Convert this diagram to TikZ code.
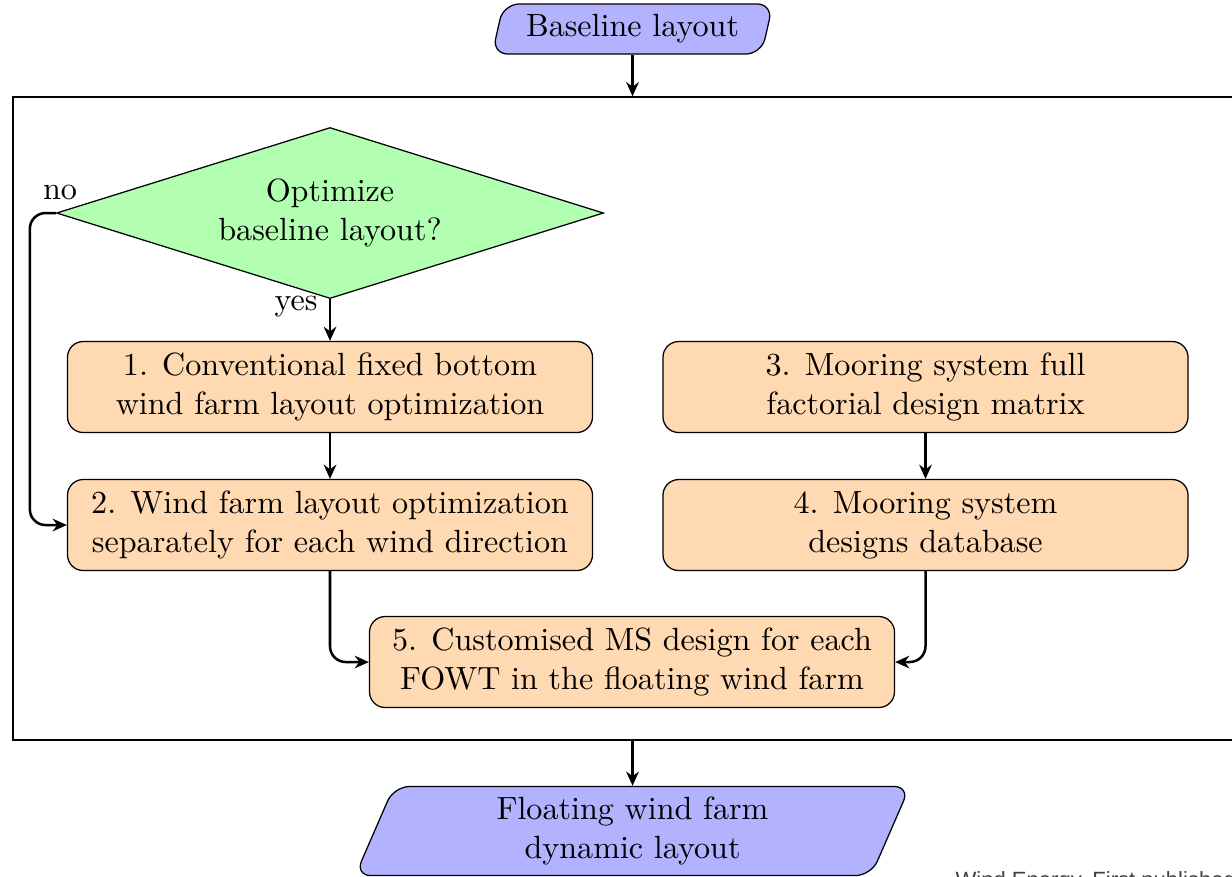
\documentclass[tikz,border=0pt]{standalone}
\usepackage{fontspec}
\newfontfamily\wmfont{Liberation Sans}
\usetikzlibrary{shapes.geometric,arrows.meta}
\begin{document}
\begin{tikzpicture}[x=0.3175pt,y=-0.3175pt,
  font=\fontsize{10.2}{12.3}\selectfont,
  proc/.style={draw, rounded corners=5pt, fill=orange!30, align=center,
    minimum width=166.7pt, minimum height=28.9pt, inner sep=0pt},
  io/.style={draw, trapezium, trapezium left angle=72, trapezium right angle=108,
    trapezium stretches=true, rounded corners=5pt, fill=blue!30, align=center, inner sep=0pt},
  decision/.style={draw, diamond, fill=green!30, minimum width=173.7pt,
    minimum height=54.3pt, inner sep=0pt},
  flow/.style={thick, -{Stealth[length=4.5pt,width=4pt]}},
]
\useasboundingbox (0,0) rectangle (1232,876);

% input, enclosing frame and output
\node[io, minimum width=89.8pt, minimum height=15.9pt] (base) at (632.5,29) {Baseline layout};
\node[draw, inner sep=0pt, minimum width=395.9pt, minimum height=204.2pt] (frame) at (636.5,418.5) {};
\node[io, minimum width=177.5pt, minimum height=28.3pt] (fin) at (632.5,831) {Floating wind farm\\dynamic layout};

% decision
\node[decision] (opt) at (330,213) {};
\node[align=center] (opttxt) at (330,213) {Optimize\\baseline layout?};

% process steps
\node[proc] (box1) at (330,387) {1. Conventional fixed bottom\\wind farm layout optimization};
\node[proc] (box2) at (330,525) {2. Wind farm layout optimization\\separately for each wind direction};
\node[proc] (box3) at (925.5,387) {3. Mooring system full\\factorial design matrix};
\node[proc] (box4) at (925.5,525) {4. Mooring system\\designs database};
\node[proc] (box5) at (632,662) {5. Customised MS design for each\\FOWT in the floating wind farm};

% branch labels
\node (nolbl) at (60,192) {no};
\node (yeslbl) at (296,307) {yes};

% connectors
\draw[flow] (base.south) -- (base.south |- frame.north);
\draw[flow] (opt.south) -- (opt.south |- box1.north);
\draw[flow] (box1) -- (box2);
\draw[flow] (box3) -- (box4);
\draw[flow, rounded corners=5pt] (opt.west) -- ++(-26,0) |- (box2.west);
\draw[flow, rounded corners=5pt] (box2.south) |- (box5.west);
\draw[flow, rounded corners=5pt] (box4.south) |- (box5.east);
\draw[flow] (fin.north |- frame.south) -- (fin.north);

% publisher line at the foot
\node[anchor=base west, font=\wmfont\fontsize{7}{8}\selectfont, text=black!75, inner sep=0pt] (wm) at (955,887) {Wind Energy, First published:};
\end{tikzpicture}
\end{document}
